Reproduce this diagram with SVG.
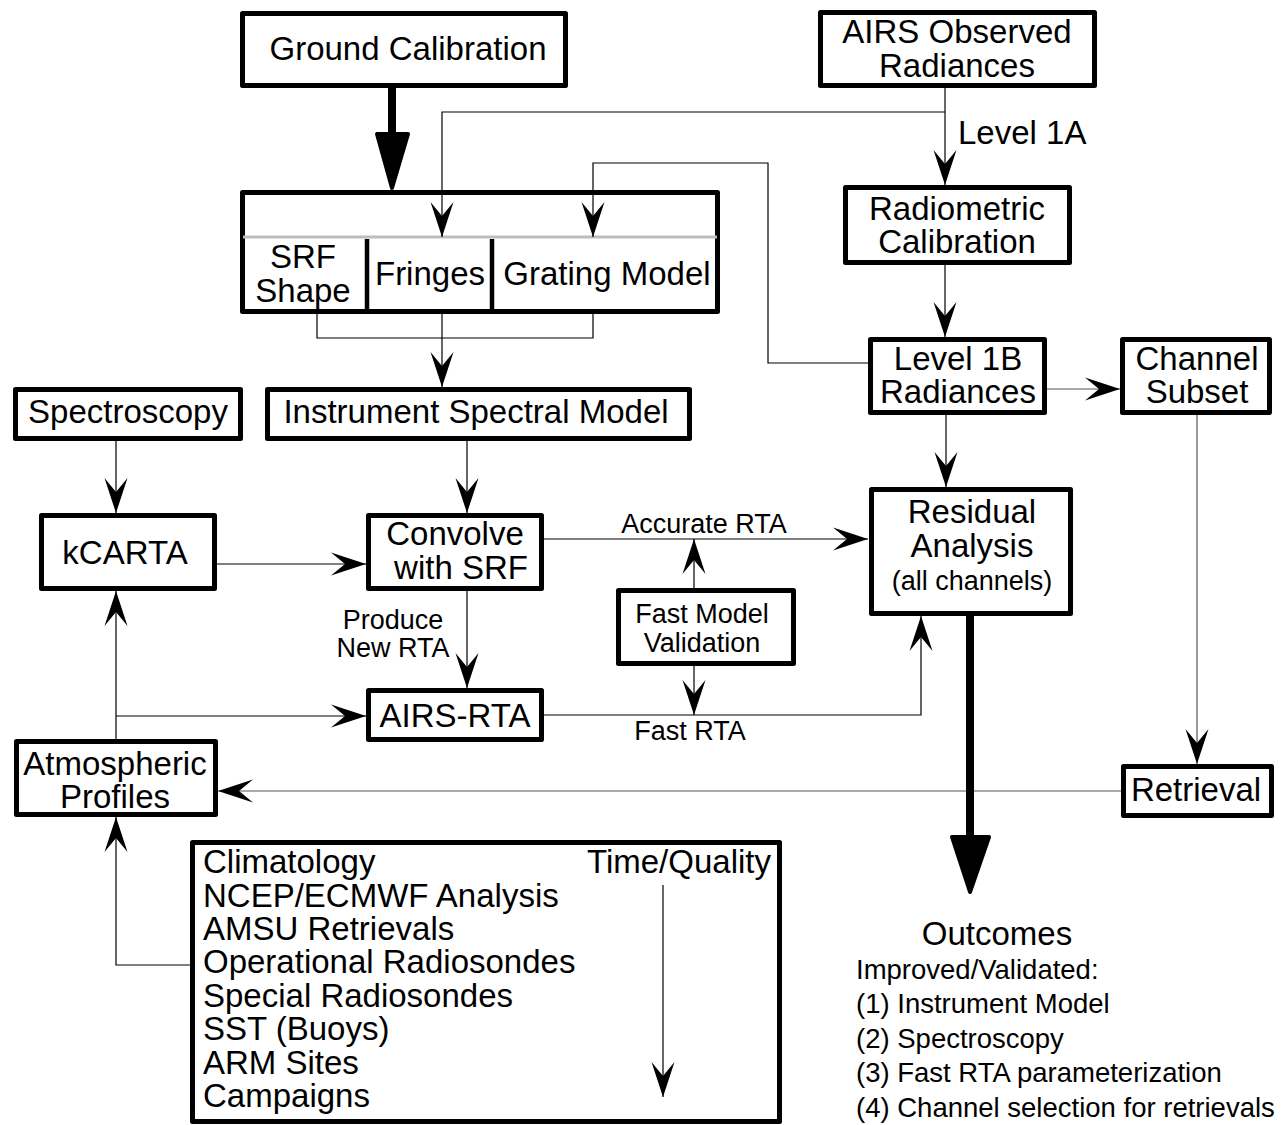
<svg xmlns="http://www.w3.org/2000/svg" width="1283" height="1125" viewBox="0 0 1283 1125">
<style>
.box{fill:#fff;stroke:#000;stroke-width:5;stroke-linejoin:round}
.t{font-family:"Liberation Sans",Arial,sans-serif;font-size:33px;fill:#000;text-anchor:middle}
.s{font-family:"Liberation Sans",Arial,sans-serif;font-size:27px;fill:#000;text-anchor:middle}
.o{font-size:27.5px}
.l{text-anchor:start}
.c{fill:none;stroke:#000;stroke-width:1.2}
.g{fill:none;stroke:#555;stroke-width:1.2}
.thick{fill:none;stroke:#000;stroke-width:8}
.head{fill:#000;stroke:#000;stroke-width:4;stroke-linejoin:round}
</style>
<defs>
<marker id="a" markerUnits="userSpaceOnUse" viewBox="-36 -12 37 24" refX="0" refY="0" markerWidth="37" markerHeight="24" orient="auto">
<path d="M0,0 L-35,-11.5 L-21,0 L-35,11.5 Z" fill="#000"/>
</marker>
</defs>
<rect width="1283" height="1125" fill="#fff"/>
<g id="ground-calibration">
<rect class="box" x="242.5" y="13.5" width="323" height="72"/>
<text class="t" x="408" y="60">Ground Calibration</text>
</g>
<g id="airs-observed">
<rect class="box" x="820.5" y="12.5" width="274" height="73"/>
<text class="t" x="957" y="43">AIRS Observed</text>
<text class="t" x="957" y="77">Radiances</text>
</g>
<text id="level1a" class="t l" x="958" y="144">Level 1A</text>
<g id="instrument-components">
<rect class="box" x="242.5" y="192.5" width="475" height="119"/>
<line x1="243" y1="237" x2="717" y2="237" stroke="#bdbdbd" stroke-width="3"/>
<line x1="367" y1="239" x2="367" y2="312" stroke="#000" stroke-width="4.5"/>
<line x1="492" y1="239" x2="492" y2="312" stroke="#000" stroke-width="4.5"/>
<text class="t" x="303" y="268">SRF</text>
<text class="t" x="303" y="302">Shape</text>
<text class="t" x="430" y="285">Fringes</text>
<text class="t" x="607" y="285">Grating Model</text>
</g>
<g id="radiometric-calibration">
<rect class="box" x="845.5" y="187.5" width="224" height="75"/>
<text class="t" x="957" y="220">Radiometric</text>
<text class="t" x="957" y="253">Calibration</text>
</g>
<g id="level1b">
<rect class="box" x="870.5" y="339.5" width="174" height="73"/>
<text class="t" x="958" y="370">Level 1B</text>
<text class="t" x="958" y="403">Radiances</text>
</g>
<g id="channel-subset">
<rect class="box" x="1122.5" y="339.5" width="147" height="73"/>
<text class="t" x="1197" y="370">Channel</text>
<text class="t" x="1197" y="403">Subset</text>
</g>
<g id="spectroscopy">
<rect class="box" x="15.5" y="389.5" width="225" height="49"/>
<text class="t" x="128" y="423">Spectroscopy</text>
</g>
<g id="instrument-spectral-model">
<rect class="box" x="267.5" y="389.5" width="422" height="49"/>
<text class="t" x="476" y="423">Instrument Spectral Model</text>
</g>
<g id="kcarta">
<rect class="box" x="41.5" y="515.5" width="173" height="73"/>
<text class="t" x="125" y="564">kCARTA</text>
</g>
<g id="convolve">
<rect class="box" x="368.5" y="515.5" width="173" height="73"/>
<text class="t" x="455" y="545">Convolve</text>
<text class="t" x="461" y="579">with SRF</text>
</g>
<g id="residual-analysis">
<rect class="box" x="871.5" y="489.5" width="199" height="124"/>
<text class="t" x="972" y="523">Residual</text>
<text class="t" x="972" y="557">Analysis</text>
<text class="s" x="972" y="590">(all channels)</text>
</g>
<g id="fast-model-validation">
<rect class="box" x="618.5" y="590.5" width="175" height="73"/>
<text class="s" x="702" y="623">Fast Model</text>
<text class="s" x="702" y="652">Validation</text>
</g>
<g id="airs-rta">
<rect class="box" x="368.5" y="690.5" width="173" height="49"/>
<text class="t" x="455" y="727">AIRS-RTA</text>
</g>
<g id="atmospheric-profiles">
<rect class="box" x="16.5" y="741.5" width="199" height="73"/>
<text class="t" x="115" y="775">Atmospheric</text>
<text class="t" x="115" y="808">Profiles</text>
</g>
<g id="retrieval">
<rect class="box" x="1123.5" y="766.5" width="148" height="49"/>
<text class="t" x="1196" y="801">Retrieval</text>
</g>
<g id="labels">
<text class="s" x="704" y="533">Accurate RTA</text>
<text class="s" x="690" y="740">Fast RTA</text>
<text class="s" x="393" y="629">Produce</text>
<text class="s" x="393" y="657">New RTA</text>
</g>
<g id="data-sources">
<rect class="box" x="192.5" y="842.5" width="587" height="279"/>
<text class="t l" x="203" y="873">Climatology</text>
<text class="t l" x="203" y="907">NCEP/ECMWF Analysis</text>
<text class="t l" x="203" y="940">AMSU Retrievals</text>
<text class="t l" x="203" y="973">Operational Radiosondes</text>
<text class="t l" x="203" y="1007">Special Radiosondes</text>
<text class="t l" x="203" y="1040">SST (Buoys)</text>
<text class="t l" x="203" y="1074">ARM Sites</text>
<text class="t l" x="203" y="1107">Campaigns</text>
<text class="t" x="771" y="873" style="text-anchor:end">Time/Quality</text>
</g>
<g id="outcomes">
<text class="t" x="997" y="945">Outcomes</text>
<text class="s o l" x="856" y="979">Improved/Validated:</text>
<text class="s o l" x="856" y="1013">(1) Instrument Model</text>
<text class="s o l" x="856" y="1048">(2) Spectroscopy</text>
<text class="s o l" x="856" y="1082">(3) Fast RTA parameterization</text>
<text class="s o l" x="856" y="1117">(4) Channel selection for retrievals</text>
</g>
<g id="connectors">
<path class="c" d="M945,88 V185" marker-end="url(#a)"/>
<path class="c" d="M945,112 H442 V237" marker-end="url(#a)"/>
<path class="c" d="M868,363 H768 V163 H593 V237" marker-end="url(#a)"/>
<path class="c" d="M945,265 V337" marker-end="url(#a)"/>
<path class="c" d="M317,314 V338 H593 V314"/>
<path class="c" d="M442,314 V387" marker-end="url(#a)"/>
<path class="g" d="M1047,389 H1120" marker-end="url(#a)"/>
<path class="c" d="M946,415 V487" marker-end="url(#a)"/>
<path class="g" d="M1197,415 V764" marker-end="url(#a)"/>
<path class="g" d="M1121,791 H218" marker-end="url(#a)"/>
<path class="c" d="M116,441 V513" marker-end="url(#a)"/>
<path class="c" d="M467,441 V513" marker-end="url(#a)"/>
<path class="c" d="M217,564 H366" marker-end="url(#a)"/>
<path class="c" d="M544,539 H868" marker-end="url(#a)"/>
<path class="c" d="M467,591 V688" marker-end="url(#a)"/>
<path class="c" d="M116,739 V591" marker-end="url(#a)"/>
<path class="c" d="M116,716 H366" marker-end="url(#a)"/>
<path class="c" d="M544,715 H921 V616" marker-end="url(#a)"/>
<path class="c" d="M694,588 V539" marker-end="url(#a)"/>
<path class="c" d="M694,666 V715" marker-end="url(#a)"/>
<path class="c" d="M190,965 H116 V817" marker-end="url(#a)"/>
<path class="c" d="M663,885 V1097" marker-end="url(#a)"/>
<path class="thick" d="M392,88 V140"/>
<path class="head" d="M377,134 L408,134 L392,188 Z"/>
<path class="thick" d="M970,616 V842"/>
<path class="head" d="M952,837 L989,837 L970,892 Z"/>
</g>
</svg>
